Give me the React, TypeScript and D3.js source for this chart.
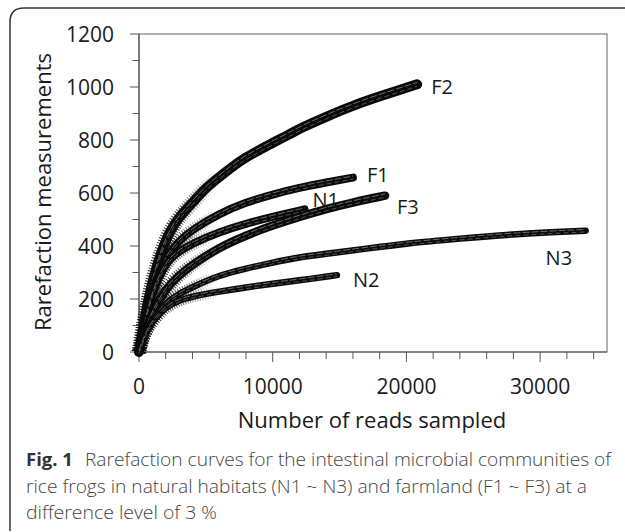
import * as React from 'react';
import * as d3 from 'd3';

const f2Reads = [0, 500, 1000, 1700, 2300, 3000, 4000, 5000, 6000, 7000, 8000, 9000, 10000, 11300, 12000, 14000, 16000, 18000, 20800];
const f2Values = [0, 150, 270, 385, 455, 510, 563, 620, 660, 700, 735, 762, 790, 822, 843, 888, 930, 965, 1010];
const f1Reads = [0, 500, 1000, 2000, 3000, 4000, 6000, 8000, 10000, 12000, 14000, 16000];
const f1Values = [0, 130, 235, 360, 420, 462, 522, 565, 595, 620, 640, 658];
const n1Reads = [0, 500, 1000, 2000, 3000, 4000, 6000, 8000, 10000, 12380];
const n1Values = [0, 125, 225, 340, 380, 410, 453, 485, 510, 538];
const f3Reads = [0, 500, 1000, 2000, 3000, 4000, 6000, 8000, 10000, 12000, 14000, 16000, 18400];
const f3Values = [0, 85, 150, 240, 290, 330, 395, 440, 478, 510, 540, 565, 590];
const n3Reads = [0, 500, 1000, 2000, 3000, 4000, 6000, 8000, 10000, 12000, 14000, 17000, 20000, 24000, 28000, 33400];
const n3Values = [0, 75, 125, 185, 220, 245, 290, 315, 338, 358, 370, 390, 410, 428, 445, 458];
const n2Reads = [0, 500, 1000, 2000, 3000, 4000, 6000, 8000, 10000, 12000, 14800];
const n2Values = [0, 70, 115, 170, 195, 210, 228, 244, 258, 270, 290];

const seriesNames = ['F2', 'F1', 'N1', 'F3', 'N3', 'N2'];
const xTickLabels = [0, 10000, 20000, 30000];
const yTickLabels = [0, 200, 400, 600, 800, 1000, 1200];

const captionBold = 'Fig. 1';
const captionLines = [
    'Rarefaction curves for the intestinal microbial communities of',
    'rice frogs in natural habitats (N1 ~ N3) and farmland (F1 ~ F3) at a',
    'difference level of 3 %'
];

const W = 625, H = 532;
const margin = {left: 139, right: 607, top: 34, bottom: 352};

export default function App() {
    const x = d3.scaleLinear().domain([0, 35000]).range([margin.left, margin.right]);
    const y = d3.scaleLinear().domain([0, 1200]).range([margin.bottom, margin.top]);

    const raw = [
        [f2Reads, f2Values], [f1Reads, f1Values], [n1Reads, n1Values],
        [f3Reads, f3Values], [n3Reads, n3Values], [n2Reads, n2Values]
    ];
    const series = raw.map(function(r, i) {
        return {name: seriesNames[i], pts: r[0].map(function(v, j) { return [v, r[1][j]]; })};
    });

    // label offsets from the end of each curve (px)
    const labelOffset = {F2: [14, 10], F1: [14, 4], N1: [8, -2], F3: [12, 18], N3: [-40, 34], N2: [16, 12]};
    const bandWidth = {F2: 10, F1: 8, N1: 8, F3: 8.5, N3: 6.5, N2: 6.5};

    const line = d3.line()
        .x(function(d) { return x(d[0]); })
        .y(function(d) { return y(d[1]); })
        .curve(d3.curveBasis);

    const xMinor = d3.range(0, 35001, 2000);
    const yMinor = d3.range(0, 1201, 100);
    const font = '"Open Sans", "DejaVu Sans", sans-serif';

    return (
        <svg width={W} height={H} style={{position: 'absolute', left: 0, top: 0, background: '#fff'}}
             fontFamily={font}>
            <defs>
                <linearGradient id="fade" gradientUnits="userSpaceOnUse" x1={margin.left} x2={x(6000)} y1={0} y2={0}>
                    <stop offset="0" stopColor="#fff" stopOpacity={1}/>
                    <stop offset="0.45" stopColor="#fff" stopOpacity={0.8}/>
                    <stop offset="1" stopColor="#fff" stopOpacity={0}/>
                </linearGradient>
                <mask id="nearOrigin" maskUnits="userSpaceOnUse" x={0} y={0} width={W} height={H}>
                    <rect x={margin.left - 10} y={margin.top} width={x(6000) - margin.left + 10} height={margin.bottom - margin.top + 10} fill="url(#fade)"/>
                </mask>
            </defs>
            <rect width={W} height={H} fill="#fff"/>
            {/* figure frame */}
            <path d={"M10,531 L10,22 Q10,8 24,8 L625,8"} fill="none" stroke="#333" strokeWidth={1.5}/>

            {/* plot box */}
            <rect x={margin.left} y={margin.top} width={margin.right - margin.left} height={margin.bottom - margin.top}
                  fill="none" stroke="#666" strokeWidth={1}/>

            {/* y ticks */}
            {yMinor.map(function(v) {
                const major = v % 200 === 0;
                return <line key={'y' + v} x1={margin.left - (major ? 9 : 6.5)} x2={margin.left} y1={y(v)} y2={y(v)}
                             stroke="#555" strokeWidth={1}/>;
            })}
            {yTickLabels.map(function(v) {
                return <text key={'yl' + v} x={114} y={y(v)} dy="0.36em" textAnchor="end" fontSize={21} fill="#1a1a1a">{v}</text>;
            })}
            {/* x ticks */}
            {xMinor.map(function(v) {
                const major = v % 10000 === 0;
                return <line key={'x' + v} x1={x(v)} x2={x(v)} y1={margin.bottom} y2={margin.bottom + (major ? 10 : 7)}
                             stroke="#555" strokeWidth={1}/>;
            })}
            {xTickLabels.map(function(v) {
                return <text key={'xl' + v} x={x(v)} y={394} textAnchor="middle" fontSize={21} fill="#1a1a1a">{v}</text>;
            })}
            <line x1={margin.left} x2={margin.left} y1={margin.top} y2={margin.bottom} stroke="#555" strokeWidth={1.2}/>
            <line x1={margin.left} x2={margin.right} y1={margin.bottom} y2={margin.bottom} stroke="#555" strokeWidth={1.2}/>

            {/* axis titles */}
            <text x={372} y={428} textAnchor="middle" fontSize={22} fill="#1a1a1a">Number of reads sampled</text>
            <text transform={"translate(51,192) rotate(-90)"} textAnchor="middle" fontSize={22} fill="#1a1a1a">Rarefaction measurements</text>

            {/* curves: error-bar hatch near the origin, solid band, grey centre */}
            <g mask="url(#nearOrigin)">
                {series.map(function(s) {
                    const d = line(s.pts as any) || '';
                    return <path key={'h' + s.name} d={d} fill="none" stroke="#111" strokeWidth={bandWidth[s.name] + 5}
                                 strokeDasharray="1 1.6"/>;
                })}
            </g>
            {series.map(function(s) {
                const d = line(s.pts as any) || '';
                const bw = bandWidth[s.name];
                return <g key={'c' + s.name}>
                    <path d={d} fill="none" stroke="#0a0a0a" strokeWidth={bw} strokeLinecap="round"/>
                    <path d={d} fill="none" stroke="#777" strokeWidth={0.9} strokeDasharray="7 2"
                          transform={"translate(0," + (-bw / 5) + ")"}/>
                    <path d={d} fill="none" stroke="#666" strokeWidth={0.8} strokeDasharray="5 3"
                          transform={"translate(0," + (bw / 5) + ")"}/>
                </g>;
            })}
            {series.map(function(s) {
                const last = s.pts[s.pts.length - 1];
                const off = labelOffset[s.name];
                return <text key={'l' + s.name} x={x(last[0]) + off[0]} y={y(last[1]) + off[1]} fontSize={20} fill="#1a1a1a">{s.name}</text>;
            })}

            {/* caption */}
            <text x={26} y={466} fontSize={18.5} fontWeight="bold" fill="#333">{captionBold}</text>
            <text x={85} y={466} fontSize={18.5} fontWeight={300} fill="#444" textLength={526} lengthAdjust="spacingAndGlyphs">{captionLines[0]}</text>
            <text x={26} y={492.5} fontSize={18.5} fontWeight={300} fill="#444" textLength={561} lengthAdjust="spacingAndGlyphs">{captionLines[1]}</text>
            <text x={26} y={518.5} fontSize={18.5} fontWeight={300} fill="#444" textLength={191} lengthAdjust="spacingAndGlyphs">{captionLines[2]}</text>
        </svg>
    );
}
